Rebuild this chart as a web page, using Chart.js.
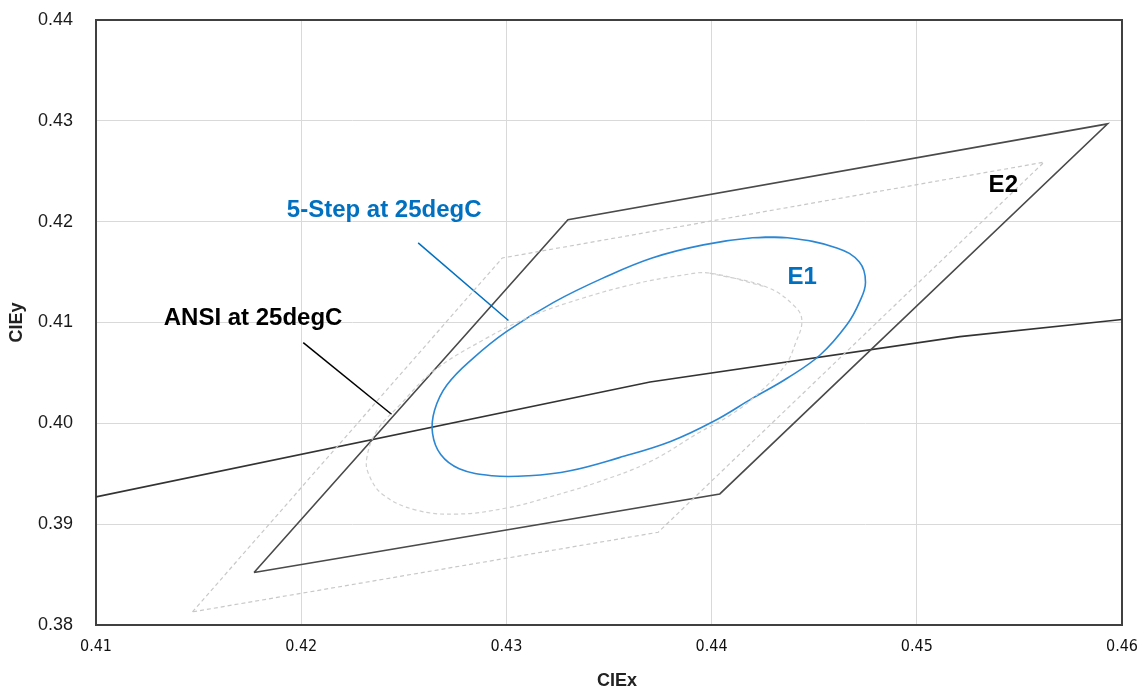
<!DOCTYPE html>
<html lang="en">
<head>
    <meta charset="UTF-8">
    <title>CIE chromaticity bins</title>
    <script src="https://cdn.jsdelivr.net/npm/chart.js"></script>
    <style>
        html, body { margin: 0; padding: 0; background: #fff; }
        #wrap { width: 1147px; height: 693px; position: relative; }
    </style>
</head>
<body>
    <div id="wrap"><canvas id="chart"></canvas></div>

    <script>
        // axis ticks
        const xTicks = [0.41, 0.42, 0.43, 0.44, 0.45, 0.46];
        const yTicks = [0.38, 0.39, 0.40, 0.41, 0.42, 0.43, 0.44];

        // ANSI quadrangle at 25degC (E2)
        const ansiX = [0.4177, 0.4330, 0.4593, 0.4404, 0.4177];
        const ansiY = [0.3852, 0.4202, 0.4297, 0.3930, 0.3852];

        // dashed quadrangle (light gray)
        const quadX = [0.4147, 0.4298, 0.4562, 0.4374, 0.4147];
        const quadY = [0.3813, 0.4164, 0.4259, 0.3892, 0.3813];

        // long reference line across the plot
        const locusX = [0.4100, 0.4370, 0.4521, 0.4600];
        const locusY = [0.3927, 0.4041, 0.4086, 0.4103];

        // 5-step ellipse at 25degC (E1), first two points repeated to close the ring smoothly
        const ellX = [0.4420, 0.4437, 0.4461, 0.4472, 0.4475, 0.4472, 0.4466, 0.4453, 0.4437, 0.4420,
                      0.4401, 0.4380, 0.4355, 0.4331, 0.4311, 0.4293, 0.4277, 0.4268, 0.4264, 0.4265,
                      0.4271, 0.4284, 0.4300, 0.4323, 0.4347, 0.4371, 0.4396, 0.4420, 0.4437];
        const ellY = [0.4184, 0.4184, 0.4174, 0.4160, 0.4140, 0.4120, 0.4098, 0.4068, 0.4045, 0.4025,
                      0.4002, 0.3982, 0.3966, 0.3953, 0.3948, 0.3948, 0.3955, 0.3969, 0.3990, 0.4013,
                      0.4038, 0.4065, 0.4091, 0.4120, 0.4144, 0.4164, 0.4177, 0.4184, 0.4184];

        // dashed ellipse (light gray)
        const grayEllX = [0.4399, 0.4427, 0.4441, 0.4444, 0.4441, 0.4436, 0.4423, 0.4409, 0.4394, 0.4370,
                          0.4345, 0.4321, 0.4300, 0.4276, 0.4256, 0.4240, 0.4233, 0.4232, 0.4237, 0.4248,
                          0.4264, 0.4289, 0.4313, 0.4337, 0.4362, 0.4386, 0.4399, 0.4427];
        const grayEllY = [0.4149, 0.4135, 0.4115, 0.4101, 0.4080, 0.4058, 0.4030, 0.4008, 0.3991, 0.3962,
                          0.3942, 0.3927, 0.3916, 0.3910, 0.3914, 0.3929, 0.3949, 0.3966, 0.3993, 0.4018,
                          0.4051, 0.4083, 0.4107, 0.4124, 0.4138, 0.4147, 0.4149, 0.4135];

        // leader lines for the two callouts
        const stepLeaderX = [0.4257, 0.4301];
        const stepLeaderY = [0.4179, 0.4102];
        const ansiLeaderX = [0.4201, 0.4244];
        const ansiLeaderY = [0.4080, 0.4009];

        // text labels: [text, x, y, colour]
        const labels = [
            ['5-Step at 25degC', 0.4193, 0.4211, '#0070C0'],
            ['ANSI at 25degC', 0.4133, 0.4104, '#000000'],
            ['E1', 0.4437, 0.4145, '#0070C0'],
            ['E2', 0.4535, 0.4236, '#000000']
        ];

        function pts(xs, ys) {
            return xs.map((x, i) => ({ x: x, y: ys[i] }));
        }

        function line(xs, ys, color, width, dash, tension) {
            return {
                data: pts(xs, ys),
                showLine: true,
                borderColor: color,
                borderWidth: width,
                borderDash: dash || [],
                pointRadius: 0,
                tension: tension || 0,
                fill: false
            };
        }

        const annotations = {
            id: 'annotations',
            beforeDatasetsDraw(chart) {
                const a = chart.chartArea;
                const ctx = chart.ctx;
                ctx.save();
                ctx.strokeStyle = '#404040';
                ctx.lineWidth = 2;
                ctx.strokeRect(a.left, a.top, a.right - a.left, a.bottom - a.top);
                ctx.restore();
            },
            afterDraw(chart) {
                const ctx = chart.ctx;
                const xs = chart.scales.x;
                const ys = chart.scales.y;
                const a = chart.chartArea;
                ctx.save();
                ctx.font = 'bold 24px "Liberation Sans", Arial, sans-serif';
                ctx.textBaseline = 'middle';
                ctx.textAlign = 'left';
                labels.forEach(l => {
                    ctx.fillStyle = l[3];
                    ctx.fillText(l[0], xs.getPixelForValue(l[1]), ys.getPixelForValue(l[2]));
                });

                // axis titles
                ctx.fillStyle = '#222';
                ctx.font = 'bold 18px "Liberation Sans", Arial, sans-serif';
                ctx.textAlign = 'center';
                ctx.fillText('CIEx', 617, 681);
                ctx.translate(17, (a.top + a.bottom) / 2);
                ctx.rotate(-Math.PI / 2);
                ctx.fillText('CIEy', 0, 0);
                ctx.restore();
            }
        };

        new Chart(document.getElementById('chart'), {
            type: 'scatter',
            data: {
                datasets: [
                    line(quadX, quadY, '#c8c8c8', 1.2, [4, 3]),
                    line(grayEllX, grayEllY, '#cfcfcf', 1.2, [4, 3], 0.4),
                    line(ellX, ellY, '#2b87d3', 1.6, null, 0.4),
                    line(ansiX, ansiY, '#4a4a4a', 1.6),
                    line(locusX, locusY, '#333333', 1.6),
                    line(stepLeaderX, stepLeaderY, '#0070C0', 1.5),
                    line(ansiLeaderX, ansiLeaderY, '#000000', 1.5)
                ]
            },
            options: {
                responsive: true,
                maintainAspectRatio: false,
                animation: false,
                layout: { padding: { top: 20, right: 25, left: 0, bottom: 0 } },
                plugins: {
                    legend: { display: false },
                    tooltip: { enabled: false }
                },
                scales: {
                    x: {
                        type: 'linear',
                        min: xTicks[0],
                        max: xTicks[xTicks.length - 1],
                        afterBuildTicks(scale) { scale.ticks = xTicks.map(v => ({ value: v })); },
                        afterFit(scale) {
                            scale.height = 68;
                            scale.paddingLeft = 0;
                            scale.paddingRight = 0;
                        },
                        grid: { color: '#d9d9d9', lineWidth: 1, drawTicks: false },
                        border: { display: false },
                        ticks: {
                            padding: 12,
                            color: '#111',
                            font: { family: '"Liberation Sans Narrow", "DejaVu Sans Condensed", "Liberation Sans", sans-serif', size: 16 },
                            callback: v => v.toFixed(2),
                            maxRotation: 0
                        }
                    },
                    y: {
                        type: 'linear',
                        min: yTicks[0],
                        max: yTicks[yTicks.length - 1],
                        afterBuildTicks(scale) { scale.ticks = yTicks.map(v => ({ value: v })); },
                        afterFit(scale) {
                            scale.width = 96;
                            scale.paddingTop = 0;
                            scale.paddingBottom = 0;
                        },
                        grid: { color: '#d9d9d9', lineWidth: 1, drawTicks: false },
                        border: { display: false },
                        ticks: {
                            padding: 23,
                            color: '#1a1a1a',
                            font: { family: '"Liberation Sans", Arial, sans-serif', size: 18 },
                            callback: v => v.toFixed(2)
                        }
                    }
                }
            },
            plugins: [annotations]
        });
    </script>
</body>
</html>
